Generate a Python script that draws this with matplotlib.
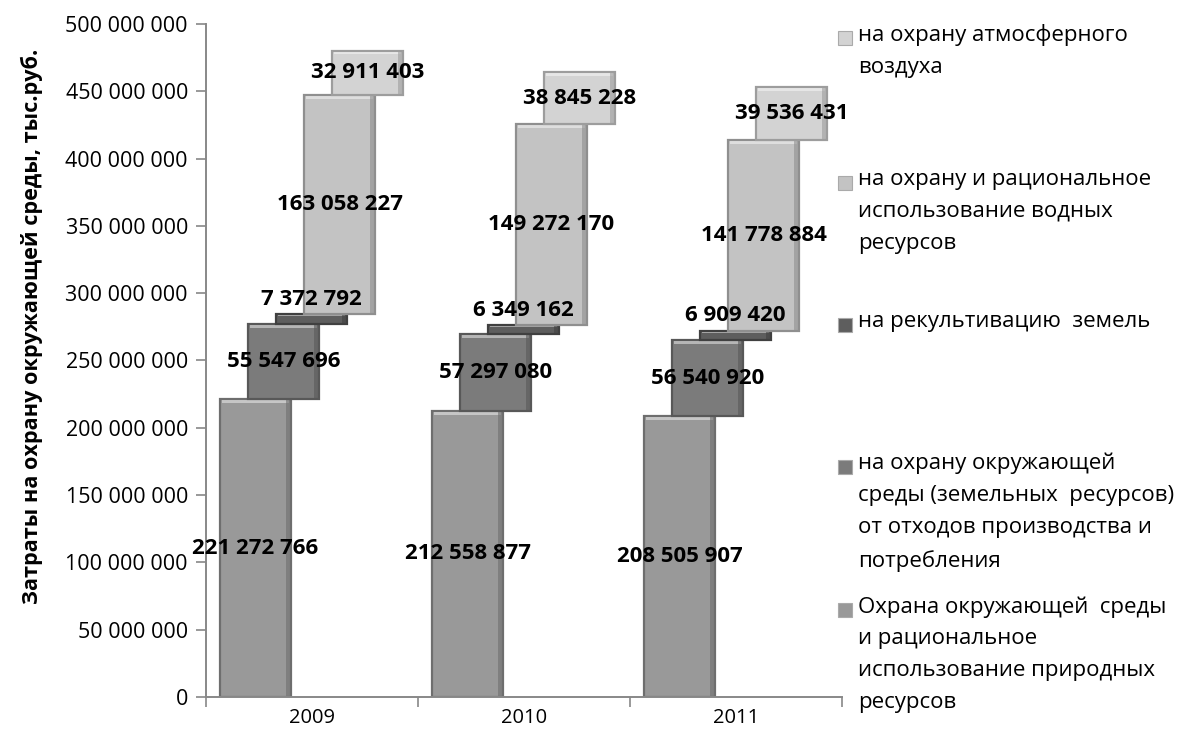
import matplotlib.pyplot as plt
from matplotlib.patches import Rectangle
import numpy as np

plt.rcParams['font.family'] = ['Open Sans', 'Liberation Sans', 'DejaVu Sans']

years = ['2009', '2010', '2011']

# series in stacking order, bottom to top
base_nature = [221272766, 212558877, 208505907]
waste_land = [55547696, 57297080, 56540920]
recultivation = [7372792, 6349162, 6909420]
water = [163058227, 149272170, 141778884]
air = [32911403, 38845228, 39536431]

series = [base_nature, waste_land, recultivation, water, air]
colors = ['#999999', '#7b7b7b', '#5e5e5e', '#c3c3c3', '#d3d3d3']
edges = ['#6e6e6e', '#585858', '#404040', '#8f8f8f', '#9d9d9d']

legend_labels = [
    'на охрану атмосферного\nвоздуха',
    'на охрану и рациональное\nиспользование водных\nресурсов',
    'на рекультивацию  земель',
    'на охрану окружающей\nсреды (земельных  ресурсов)\nот отходов производства и\nпотребления',
    'Охрана окружающей  среды\nи рациональное\nиспользование природных\nресурсов',
]
legend_colors = [colors[4], colors[3], colors[2], colors[1], colors[0]]
legend_y = [38, 183, 325, 467, 610]


def fmt(v):
    return f'{v:,}'.replace(',', ' ')


fig = plt.figure(figsize=(11.78, 7.37), dpi=100)
ax = fig.add_axes([206 / 1178, 1 - 697 / 737, 636 / 1178, 673 / 737])

width = 0.335
step = 28 / 212
first = 14 / 212

bottoms = np.zeros(len(years))
for k, vals in enumerate(series):
    vals = np.array(vals, dtype=float)
    lefts = np.arange(len(years)) + first + k * step
    ax.bar(lefts, vals, width=width, bottom=bottoms, align='edge',
           color=colors[k], edgecolor=edges[k], linewidth=1.6, zorder=2 + k)
    # lighter strip along the top edge for a bevelled look
    for x0, b, v in zip(lefts, bottoms, vals):
        h = min(v * 0.12, 2.2e6)
        ax.add_patch(Rectangle((x0 + 0.01, b + v - h - 0.6e6), width - 0.02, h,
                               facecolor='white', alpha=0.45, lw=0, zorder=2 + k))
        ax.add_patch(Rectangle((x0 + width - 0.025, b), 0.02, v,
                               facecolor=edges[k], alpha=0.6, lw=0, zorder=2 + k))
    for x0, b, v in zip(lefts, bottoms, vals):
        cx = x0 + width / 2
        if v < 20e6:
            ax.text(cx, b + v + 3.5e6, fmt(int(v)), ha='center', va='bottom',
                    fontsize=16, fontweight='bold', zorder=20)
        else:
            ax.text(cx, b + v / 2, fmt(int(v)), ha='center', va='center',
                    fontsize=16, fontweight='bold', zorder=20)
    bottoms += vals

ax.set_xlim(0, 3)
ax.set_ylim(0, 500e6)
ax.set_yticks(np.arange(0, 500e6 + 1, 50e6))
ax.set_yticklabels([fmt(int(t)) for t in np.arange(0, 500e6 + 1, 50e6)], fontsize=15.5)
ax.set_xticks([0, 1, 2, 3])
ax.set_xticklabels([])
ax.set_xticks([0.5, 1.5, 2.5], minor=True)
ax.set_xticklabels(years, minor=True, fontsize=14.5)
ax.tick_params(axis='x', which='minor', length=0, pad=8)
ax.tick_params(axis='x', which='major', length=7, color='#888888', width=1.2)
ax.tick_params(axis='y', length=7, color='#888888', width=1.2, pad=6)

for s in ['top', 'right']:
    ax.spines[s].set_visible(False)
for s in ['left', 'bottom']:
    ax.spines[s].set_color('#888888')
    ax.spines[s].set_linewidth(1.4)

ax.set_ylabel('Затраты на охрану окружающей среды, тыс.руб.', fontsize=15.6,
              fontweight='bold')
ax.yaxis.set_label_coords(-0.256, 0.551)

# legend on the right, one gray square per series
for lab, col, yy in zip(legend_labels, legend_colors, legend_y):
    fig.patches.append(Rectangle((838 / 1178, 1 - (yy + 7) / 737), 14 / 1178, 14 / 737,
                                 transform=fig.transFigure, facecolor=col,
                                 edgecolor='#aaaaaa', lw=0.8))
    fig.text(858 / 1178, 1 - (yy - 14) / 737, lab, fontsize=16, va='top', ha='left',
             linespacing=1.68)

fig.savefig('out.png', dpi=100)
